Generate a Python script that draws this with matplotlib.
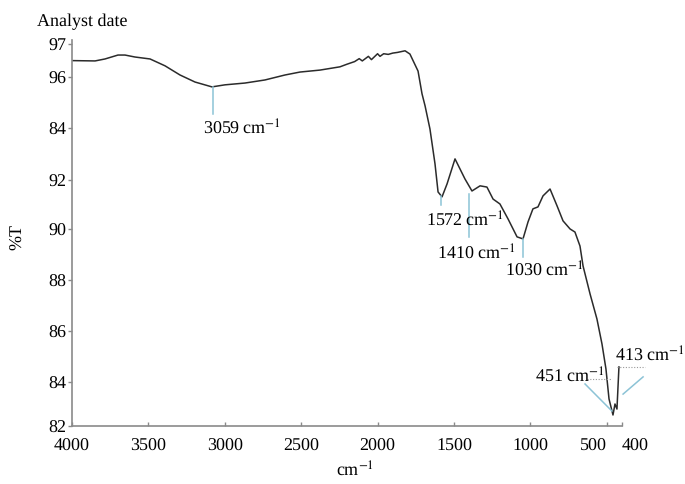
import numpy as np
import matplotlib
matplotlib.use("Agg")
import matplotlib.pyplot as plt

plt.rcParams["font.family"] = ["Liberation Serif", "DejaVu Serif"]
plt.rcParams["mathtext.fontset"] = "stix"
plt.rcParams["text.hinting"] = "no_hinting"
plt.rcParams["text.hinting_factor"] = 1

# ---- spectrum (wavenumber cm^-1, %T) ----------------------------------------
wavenumber = [4000, 3849, 3784, 3699, 3653, 3588, 3489, 3391, 3293, 3195,
              3084, 2999, 2868, 2737, 2606, 2508, 2377, 2246, 2200, 2150,
              2120, 2100, 2060, 2040, 2000, 1984, 1960, 1930, 1900, 1870,
              1820, 1788, 1735, 1709, 1689, 1657, 1624, 1604, 1578, 1545,
              1493, 1428, 1382, 1329, 1284, 1244, 1199, 1146, 1087, 1048,
              1015, 983, 950, 917, 871, 825, 786, 740, 708, 675,
              655, 609, 564, 531, 505, 485, 459, 446, 433, 420]
transmittance = [96.49, 96.48, 96.54, 96.66, 96.66, 96.60, 96.54, 96.33, 96.05, 95.79,
                 95.60, 95.68, 95.75, 95.87, 96.05, 96.14, 96.20, 96.30, 96.38, 96.46,
                 96.55, 96.48, 96.62, 96.52, 96.70, 96.62, 96.70, 96.68, 96.72, 96.74,
                 96.79, 96.69, 96.17, 95.33, 94.86, 93.96, 92.62, 91.51, 91.31, 91.84,
                 92.81, 92.04, 91.55, 91.76, 91.71, 91.22, 91.02, 90.41, 89.69, 89.61,
                 90.29, 90.82, 90.90, 91.35, 91.63, 90.94, 90.33, 90.00, 89.88, 89.33,
                 88.55, 87.45, 86.47, 85.49, 84.51, 83.23, 82.50, 83.00, 82.77, 84.59]

# y ticks: printed labels (the third one reads "84" in the original)
ytick_values = [82, 84, 86, 88, 90, 92, 94, 96, 97]
ytick_labels = ["82", "84", "86", "88", "90", "92", "84", "96", "97"]
xtick_values = [4000, 3500, 3000, 2500, 2000, 1500, 1000, 500, 400]
xtick_labels = ["4000", "3500", "3000", "2500", "2000", "1500", "1000", "500", "400"]

# the original axis is not evenly spaced: pixel height of each tick
tick_height = [0, 44, 95, 146, 197, 246, 298, 349.3, 382]
scale_vals = np.array(ytick_values + [98.0], float)
scale_pos = np.array(tick_height + [414.7], float)


def fwd(v):
    return np.interp(v, scale_vals, scale_pos)


def inv(h):
    return np.interp(h, scale_pos, scale_vals)


# peak labels: (text, text x, text y, marker segments)
peaks = [
    ("3059", 2887, 94.04, [((3075, 3075), (95.60, 94.55))]),
    ("1572", 1428, 90.41, [((1585, 1585), (91.35, 90.98))]),
    ("1410", 1356, 89.10, [((1401, 1401), (91.43, 89.69))]),
    ("1030", 911, 88.43, [((1048, 1048), (89.61, 88.90))]),
    ("451", 740, 84.27, [((642, 466), (83.91, 82.68))]),
    ("413", 217, 85.10, [((393, 262), (83.45, 84.20))]),
]
dotted = [((629, 472), (84.12, 84.12)), ((433, 250), (84.59, 84.59))]

fig = plt.figure(figsize=(6.85, 4.85), dpi=100)
ax = fig.add_axes([72 / 685, 58 / 485, 550 / 685, 386 / 485])
ax.set_yscale("function", functions=(fwd, inv))

ax.plot(wavenumber, transmittance, color="#2b2b2b", lw=1.1)

for txt, tx, ty, segs in peaks:
    for xs, ys in segs:
        ax.plot(xs, ys, color="#8cc3d6", lw=1.1, clip_on=False)
    ax.text(tx, ty, txt + r" cm$^{-1}$", ha="center", va="center",
            fontsize=13, clip_on=False)
for xs, ys in dotted:
    ax.plot(xs, ys, color="#999999", lw=0.8, ls=(0, (1, 1.5)), clip_on=False)

ax.set_xlim(4000, 400)
ax.set_ylim(82, 97.12)
ax.set_xticks(xtick_values)
ax.set_xticklabels(xtick_labels)
ax.set_yticks(ytick_values)
ax.set_yticklabels(ytick_labels)
ax.minorticks_off()

for s in ["top", "right"]:
    ax.spines[s].set_visible(False)
for s in ["left", "bottom"]:
    ax.spines[s].set_color("#8a8a8a")
    ax.spines[s].set_linewidth(1.2)
ax.tick_params(axis="y", direction="out", length=3, width=1, color="#8a8a8a",
               pad=1, labelsize=13)
ax.tick_params(axis="x", direction="in", length=3, width=1, color="#8a8a8a",
               pad=8, labelsize=13)
xl = ax.get_xticklabels()
xl[-2].set_ha("right")
xl[-1].set_ha("left")

fig.text(37 / 685, 1 - 22 / 485, "Analyst date", fontsize=13, va="center")
fig.text(18 / 685, 1 - 237 / 485, "%T", fontsize=13, rotation=90,
         ha="center", va="center")
fig.text(355 / 685, 1 - 470 / 485, r"cm$^{-1}$", fontsize=13,
         ha="center", va="center")

fig.savefig("out.png", dpi=100)
